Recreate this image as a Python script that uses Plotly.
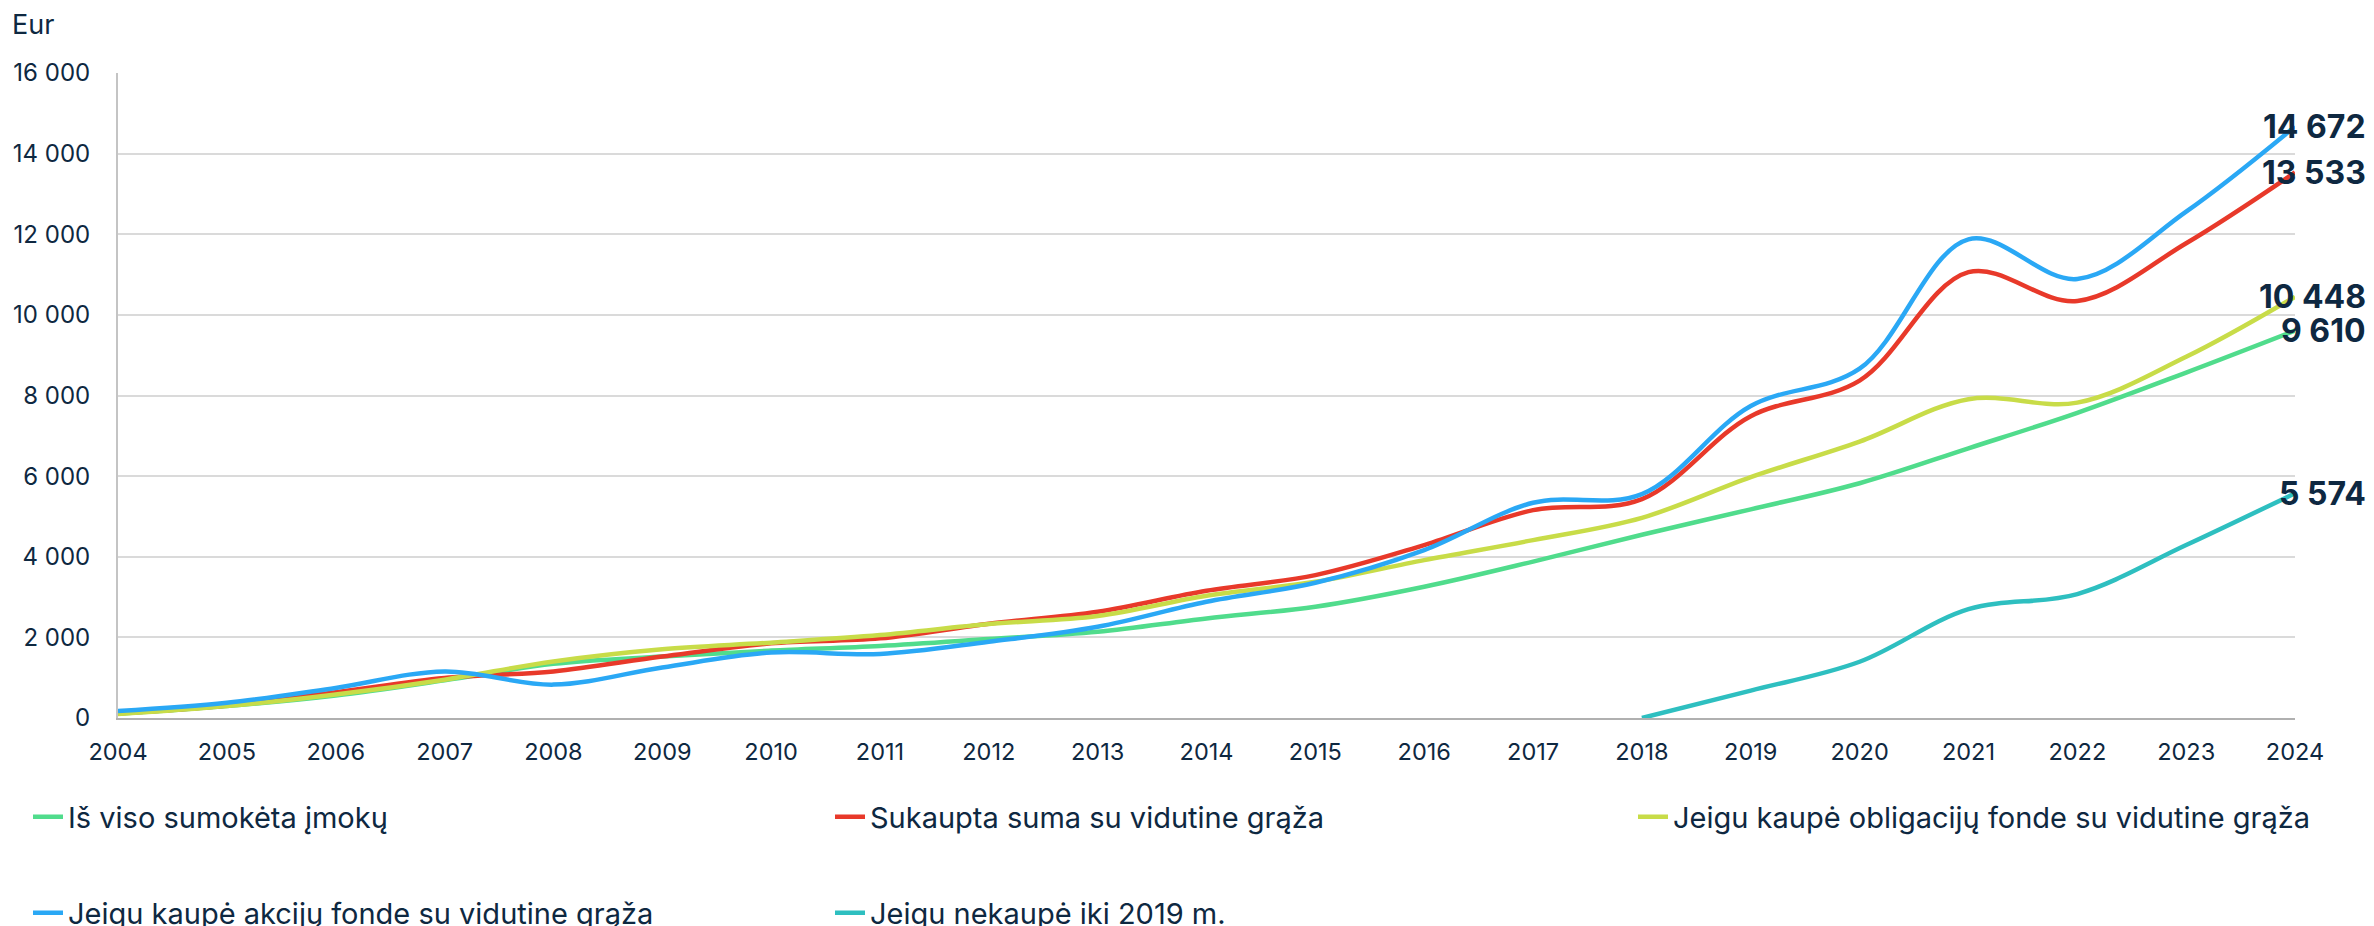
import plotly.graph_objects as go

years = list(range(2004, 2025))

names = [
    "Iš viso sumokėta įmokų",
    "Sukaupta suma su vidutine grąža",
    "Jeigu kaupė obligacijų fonde su vidutine grąža",
    "Jeigu kaupė akcijų fonde su vidutine grąža",
    "Jeigu nekaupė iki 2019 m.",
]

paid_total = [107, 295, 557, 934, 1344, 1525, 1672, 1787, 1959, 2140, 2471,
              2760, 3256, 3880, 4546, 5176, 5824, 6690, 7571, 8570, 9610]
avg_return = [115, 311, 639, 992, 1156, 1525, 1852, 1975, 2340, 2636, 3157,
              3545, 4289, 5157, 5429, 7487, 8370, 11059, 10345, 11777, 13533]
bond_fund = [98, 295, 582, 951, 1402, 1705, 1869, 2057, 2330, 2529, 3033,
             3380, 3917, 4413, 4966, 5975, 6857, 7908, 7824, 8959, 10448]
equity_fund = [172, 377, 746, 1156, 828, 1254, 1623, 1590, 1893, 2264, 2884,
               3355, 4165, 5339, 5555, 7739, 8664, 11874, 10891, 12562, 14672]
late_years = list(range(2018, 2025))
late_start = [0, 680, 1395, 2700, 3075, 4290, 5574]

colors = ["#50DC8C", "#E8392A", "#C8DC48", "#2AA8F5", "#2EBFC0"]
text_color = "#0E2841"
font_family = "Inter, Roboto, Arial, sans-serif"

series = [
    (years, paid_total),
    (years, avg_return),
    (years, bond_fund),
    (years, equity_fund),
    (late_years, late_start),
]

W, H = 2374, 926
ml, mr, mt, mb = 118, 79, 73, 208
pw = W - ml - mr
ph = H - mt - mb

# legend placement (pixel position of each entry's origin and row centre)
legend_slots = [(28, 817), (830, 817), (1633, 817), (28, 913), (830, 913)]
legend_ids = ["legend", "legend2", "legend3", "legend4", "legend5"]

fig = go.Figure()
for (xs, ys), name, col, lid in zip(series, names, colors, legend_ids):
    fig.add_trace(go.Scatter(
        x=xs, y=ys, name=name, mode="lines",
        line=dict(color=col, width=4.5, shape="spline", smoothing=1.0),
        legend=lid, showlegend=True,
    ))

# end-of-line value labels
for xs, ys in series:
    v = ys[-1]
    fig.add_annotation(
        x=xs[-1], y=v, xref="x", yref="y",
        text=f"{v:,}".replace(",", " "),
        showarrow=False, xanchor="right", yanchor="middle", xshift=73,
        font=dict(family=font_family, size=32, color=text_color, weight="bold"),
    )

legends = {}
for lid, (px, py) in zip(legend_ids, legend_slots):
    legends[lid] = dict(
        orientation="h", xanchor="left", yanchor="middle",
        x=(px - ml) / pw, y=-(py - (H - mb)) / ph,
        bgcolor="rgba(0,0,0,0)", borderwidth=0,
        font=dict(family=font_family, size=29, color=text_color),
        itemclick=False, itemdoubleclick=False,
    )

fig.update_layout(
    width=W, height=H,
    margin=dict(l=ml, r=mr, t=mt, b=mb, autoexpand=False),
    paper_bgcolor="white", plot_bgcolor="white",
    separators=". ",
    font=dict(family=font_family, color=text_color),
    title=dict(text="Eur", x=12 / W, xref="container", xanchor="left",
               y=1 - 25 / H, yref="container", yanchor="middle",
               font=dict(family=font_family, size=27, color=text_color)),
    showlegend=True,
    **legends,
)

fig.update_xaxes(
    range=[2004, 2024], tickmode="array", tickvals=years,
    ticktext=[str(y) for y in years],
    showgrid=False, zeroline=False,
    showline=True, linecolor="#B0B0B0", linewidth=2,
    ticks="", ticklabelstandoff=12,
    tickfont=dict(family=font_family, size=23.5, color=text_color),
)
fig.update_yaxes(
    range=[0, 16000], tickmode="linear", tick0=0, dtick=2000,
    tickformat=",d",
    showgrid=True, gridcolor="#DADADA", gridwidth=1.5,
    zeroline=False,
    showline=True, linecolor="#C4C4C4", linewidth=2,
    ticks="", ticklabelstandoff=21,
    tickfont=dict(family=font_family, size=24, color=text_color),
)

fig.write_html(
    "out.html",
    config={"displayModeBar": False},
    post_script="document.body.style.margin='0';document.body.style.overflow='hidden';",
)
